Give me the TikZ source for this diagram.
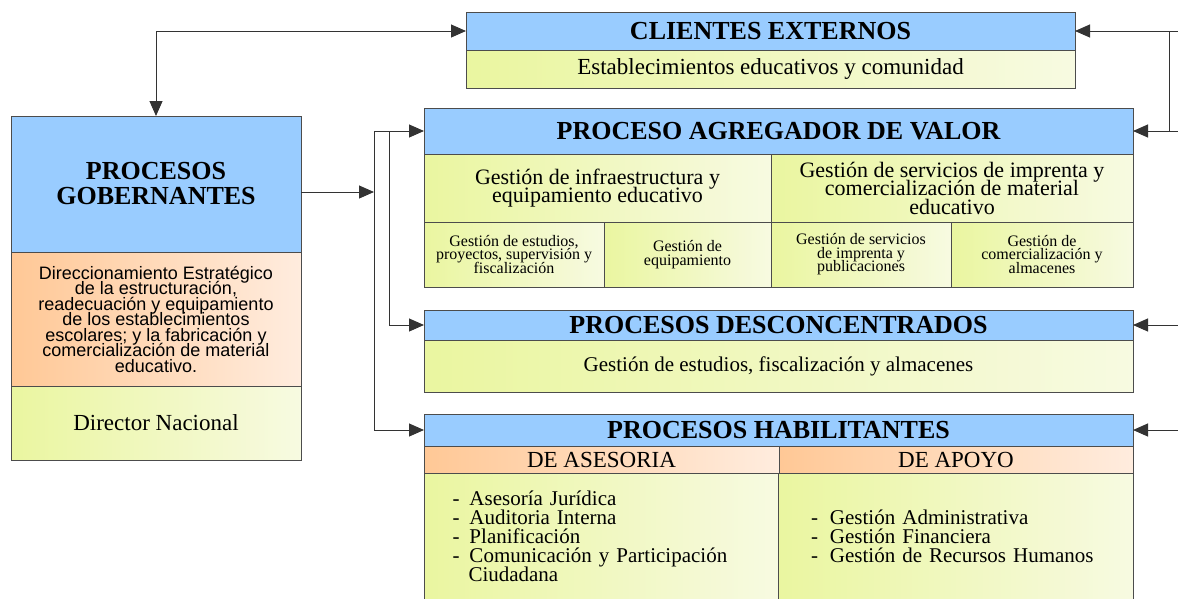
\documentclass[tikz,border=0pt]{standalone}
\usepackage{fontspec}
\setmainfont{Liberation Serif}
\newfontfamily\arialfont{Liberation Sans}
\usetikzlibrary{arrows.meta, positioning}

\definecolor{hblue}{RGB}{153,204,255}
\definecolor{gleft}{RGB}{234,246,160}
\definecolor{gright}{RGB}{247,250,225}
\definecolor{oleft}{RGB}{255,200,150}
\definecolor{oright}{RGB}{255,236,222}
\newcommand{\setfs}[2]{\fontsize{#1}{#2}\selectfont\lineskiplimit=-100pt\relax}

\begin{document}
\begin{tikzpicture}[x=1pt, y=-1pt]
\tikzstyle{head}=[draw=black!70, line width=1pt, fill=hblue, inner sep=0pt, outer sep=0pt, align=center, font={\setfs{26}{25}\bfseries}]
\tikzstyle{cell}=[draw=black!70, line width=1pt, left color=gleft, right color=gright, inner sep=0pt, outer sep=0pt, align=center, font={\setfs{22}{18.5}}]
\tikzstyle{ocell}=[cell, left color=oleft, right color=oright]
\tikzstyle{small}=[cell, font={\setfs{16}{13.5}}]
\tikzstyle{connect}=[-{Triangle[length=15pt, width=13pt]}, draw=black!80, line width=1pt]
\tikzstyle{both}=[connect, {Triangle[length=15pt, width=13pt]}-{Triangle[length=15pt, width=13pt]}]
\useasboundingbox (0,0) rectangle (1178,598);
% clientes externos
\node[head, anchor=north west, minimum width=609, minimum height=38] (clihead) at (466,12) {CLIENTES EXTERNOS};
\node[cell, minimum width=609, minimum height=38, font={\setfs{23}{20}}] (cli) [below=0pt of clihead] {Establecimientos educativos y comunidad};
% procesos gobernantes
\node[head, anchor=north west, minimum width=290, minimum height=136] (gobhead) at (11,116) {PROCESOS\\GOBERNANTES};
\node[ocell, minimum width=290, minimum height=134, font={\arialfont\setfs{18}{15.5}}] (gobtext) [below=0pt of gobhead] {Direccionamiento Estratégico\\de la estructuración,\\readecuación y equipamiento\\de los establecimientos\\escolares; y la fabricación y\\comercialización de material\\educativo.};
\node[cell, minimum width=290, minimum height=74, font={\setfs{23}{20}}] (gobdir) [below=0pt of gobtext] {Director Nacional};
% proceso agregador de valor
\node[head, anchor=north west, minimum width=709, minimum height=46] (agrhead) at (424,108) {PROCESO AGREGADOR DE VALOR};
\node[cell, anchor=north west, minimum width=347, minimum height=68] (infra) at (agrhead.south west) {Gestión de infraestructura y\\equipamiento educativo};
\node[cell, minimum width=362, minimum height=68] (impr) [right=0pt of infra] {Gestión de servicios de imprenta y\\comercialización de material\\educativo};
\node[small, anchor=north west, minimum width=180, minimum height=65] (estu) at (infra.south west) {Gestión de estudios,\\proyectos, supervisión y\\fiscalización};
\node[small, minimum width=167, minimum height=65] (equi) [right=0pt of estu] {Gestión de\\equipamiento};
\node[small, minimum width=180, minimum height=65] (publ) [right=0pt of equi] {Gestión de servicios\\de imprenta y\\publicaciones};
\node[small, minimum width=182, minimum height=65] (alma) [right=0pt of publ] {Gestión de\\comercialización y\\almacenes};
% procesos desconcentrados
\node[head, anchor=north west, minimum width=709, minimum height=30] (deshead) at (424,310) {PROCESOS DESCONCENTRADOS};
\node[cell, minimum width=709, minimum height=52, font={\setfs{21}{18}}] (des) [below=0pt of deshead] {Gestión de estudios, fiscalización y almacenes};
% procesos habilitantes
\node[head, anchor=north west, minimum width=709, minimum height=32] (habhead) at (424,414) {PROCESOS HABILITANTES};
\node[ocell, anchor=north west, minimum width=355, minimum height=27, font={\setfs{23}{20}}] (ases) at (habhead.south west) {DE ASESORIA};
\node[ocell, minimum width=354, minimum height=27, font={\setfs{23}{20}}] (apoyo) [right=0pt of ases] {DE APOYO};
\node[cell, anchor=north west, minimum width=354, minimum height=127, text width=297, align=left, font={\setfs{21}{19}}] (aseslist) at (ases.south west) {\makebox[17pt][l]{-}Asesoría Jurídica\\\makebox[17pt][l]{-}Auditoria Interna\\\makebox[17pt][l]{-}Planificación\\\makebox[17pt][l]{-}Comunicación y Participación\\\hspace*{16pt}Ciudadana};
\node[cell, anchor=north west, minimum width=355, minimum height=127, text width=289, align=left, font={\setfs{21}{19}}] (apoylist) at (aseslist.north east) {\makebox[19pt][l]{-}Gestión Administrativa\\\makebox[19pt][l]{-}Gestión Financiera\\\makebox[19pt][l]{-}Gestión de Recursos Humanos};
% connectors
\coordinate (busa) at (374,0);
\coordinate (busb) at (389,0);
\coordinate (rbar) at (1169,0);
\coordinate (redge) at (1178,0);
\draw[both] (gobhead.north) |- (clihead.west);
\draw[connect] ([yshift=-8pt]gobhead.east) -- ([yshift=-8pt]gobhead.east -| busa);
\draw[connect] (agrhead.west -| busa) -- (agrhead.west);
\draw[connect] (agrhead.west -| busa) |- (habhead.west);
\draw[connect] (agrhead.west -| busb) |- (deshead.west);
\draw[connect] (clihead.east -| redge) -- (clihead.east);
\draw[connect] (agrhead.east -| redge) -- (agrhead.east);
\draw[draw=black!80, line width=1pt] (clihead.east -| rbar) -- (agrhead.east -| rbar);
\draw[connect] (deshead.east -| redge) -- (deshead.east);
\draw[connect] (habhead.east -| redge) -- (habhead.east);
\end{tikzpicture}
\end{document}
